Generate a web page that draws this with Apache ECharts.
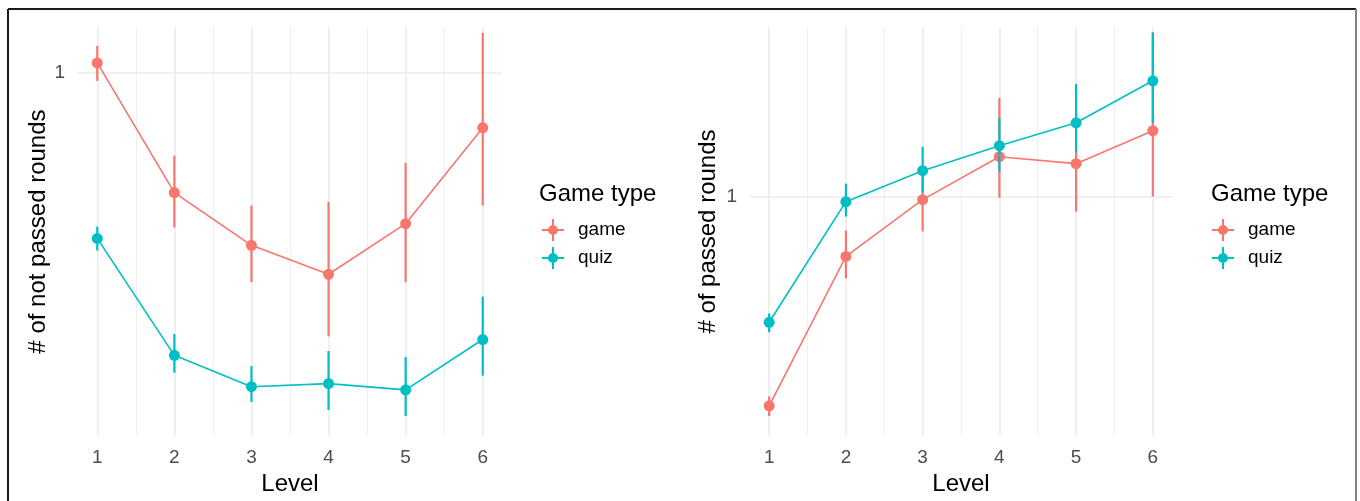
<!DOCTYPE html>
<html>
<head>
<meta charset="utf-8">
<title>Rounds by level and game type</title>
<script src="https://cdn.jsdelivr.net/npm/echarts@6/dist/echarts.min.js"></script>
<style>
  html, body { margin: 0; padding: 0; background: #ffffff; }
  #chart { width: 1360px; height: 501px; }
</style>
</head>
<body>
<div id="chart"></div>
<script>
// Levels on the x axis
const levels = [1, 2, 3, 4, 5, 6];
const groupNames = ['game', 'quiz'];
const xTicks = [1, 2, 3, 4, 5, 6];
const xMinorGrid = [1.5, 2.5, 3.5, 4.5, 5.5];
const yTickLabels = [1];

// Left panel: number of not passed rounds (mean with interval)
const notPassedGame     = [1.058, 0.510, 0.379, 0.322, 0.428, 0.734];
const notPassedGameLow  = [0.956, 0.419, 0.308, 0.227, 0.308, 0.474];
const notPassedGameHigh = [1.164, 0.628, 0.474, 0.484, 0.603, 1.252];
const notPassedQuiz     = [0.394, 0.204, 0.171, 0.174, 0.168, 0.223];
const notPassedQuizLow  = [0.368, 0.185, 0.157, 0.150, 0.145, 0.182];
const notPassedQuizHigh = [0.421, 0.230, 0.192, 0.209, 0.202, 0.284];

// Right panel: number of passed rounds (mean with interval)
const passedGame     = [0.308, 0.714, 0.983, 1.252, 1.204, 1.449];
const passedGameLow  = [0.291, 0.631, 0.822, 0.994, 0.919, 1.000];
const passedGameHigh = [0.325, 0.826, 1.125, 1.744, 1.339, 2.526];
const passedQuiz     = [0.493, 0.972, 1.157, 1.332, 1.515, 1.919];
const passedQuizLow  = [0.466, 0.894, 1.023, 1.151, 1.287, 1.515];
const passedQuizHigh = [0.518, 1.076, 1.324, 1.558, 1.886, 2.512];

const COLORS = { game: '#F8766D', quiz: '#00BFC4' };
const FONT = 'Liberation Sans, Arial, sans-serif';

const chart = echarts.init(document.getElementById('chart'), null, { renderer: 'canvas' });

const panels = [
  { left: 78,  width: 424, yMin: 0.1295, yMax: 1.295, title: '# of not passed rounds', nameGap: 28,
    game: [notPassedGame, notPassedGameLow, notPassedGameHigh],
    quiz: [notPassedQuiz, notPassedQuizLow, notPassedQuizHigh], legendLeft: 542, legendTitleLeft: 539 },
  { left: 750, width: 422, yMin: 0.2598, yMax: 2.598, title: '# of passed rounds', nameGap: 30,
    game: [passedGame, passedGameLow, passedGameHigh],
    quiz: [passedQuiz, passedQuizLow, passedQuizHigh], legendLeft: 1212, legendTitleLeft: 1211 }
];

const grids = [], xAxes = [], yAxes = [], series = [], legends = [], titles = [];

// pointrange legend glyph: horizontal and vertical strokes plus a dot
const pointRangeIcon = 'path://M0,10h22v2h-22z M10,0h2v22h-2z M6,11a5,5 0 1,1 10,0a5,5 0 1,1 -10,0z';

panels.forEach((p, i) => {
  grids.push({ left: p.left, top: 27, width: p.width, height: 410, containLabel: false });
  xAxes.push({
    type: 'value', gridIndex: i, min: 0.75, max: 6.25, interval: 0.25,
    name: 'Level', nameLocation: 'middle', nameGap: 35,
    nameTextStyle: { fontSize: 24, color: '#000', fontFamily: FONT },
    axisLine: { show: false }, axisTick: { show: false }, splitLine: { show: false },
    axisLabel: {
      margin: 12, fontSize: 19, color: '#4d4d4d', fontFamily: FONT,
      formatter: v => (xTicks.indexOf(Math.round(v * 100) / 100) >= 0 ? String(Math.round(v)) : '')
    }
  });
  yAxes.push({
    type: 'log', logBase: 10, gridIndex: i, min: p.yMin, max: p.yMax,
    name: p.title, nameLocation: 'middle', nameGap: p.nameGap, nameRotate: 90,
    nameTextStyle: { fontSize: 24, color: '#000', fontFamily: FONT },
    axisLine: { show: false }, axisTick: { show: false }, splitLine: { show: false },
    axisLabel: {
      margin: 13, fontSize: 19, color: '#4d4d4d', fontFamily: FONT,
      formatter: v => {
        const t = yTickLabels.find(t => Math.abs(v - t) < 1e-6);
        return t === undefined ? '' : String(t);
      }
    }
  });

  // panel grid lines, kept underneath the data
  const gridLines = [];
  xTicks.forEach(v => gridLines.push({ xAxis: v, lineStyle: { color: '#ebebeb', width: 1.6, type: 'solid' } }));
  xMinorGrid.forEach(v => gridLines.push({ xAxis: v, lineStyle: { color: '#f0f0f0', width: 1, type: 'solid' } }));
  yTickLabels.forEach(v => gridLines.push({ yAxis: v, lineStyle: { color: '#ebebeb', width: 1.6, type: 'solid' } }));
  series.push({
    type: 'line', name: 'panel-grid-' + i, xAxisIndex: i, yAxisIndex: i, data: [], z: 0,
    silent: true, animation: false,
    markLine: { z: 0, silent: true, symbol: 'none', label: { show: false }, animation: false, data: gridLines }
  });

  groupNames.forEach((g, gi) => {
    const [mean, low, high] = p[g];
    const color = COLORS[g];
    // interval bars
    series.push({
      type: 'custom', name: g, xAxisIndex: i, yAxisIndex: i, z: 10 + gi * 2,
      silent: true, animation: false, itemStyle: { color: color, opacity: 1 },
      encode: { x: 0, y: [1, 2] },
      data: levels.map((l, k) => [l, low[k], high[k]]),
      renderItem: (params, api) => {
        const a = api.coord([api.value(0), api.value(1)]);
        const b = api.coord([api.value(0), api.value(2)]);
        return { type: 'rect', shape: { x: a[0] - 1.1, y: b[1], width: 2.2, height: a[1] - b[1] },
                 style: { fill: color, opacity: 1 } };
      }
    });
    // means joined by a line
    series.push({
      type: 'line', name: g, xAxisIndex: i, yAxisIndex: i, z: 11 + gi * 2,
      data: levels.map((l, k) => [l, mean[k]]),
      symbol: 'circle', symbolSize: 11, showSymbol: true,
      lineStyle: { color: color, width: 1.6 },
      itemStyle: { color: color, borderWidth: 0, opacity: 1 },
      emphasis: { disabled: true }, animation: false
    });
  });

  titles.push({
    text: 'Game type', left: p.legendTitleLeft, top: 182, padding: 0,
    textStyle: { fontSize: 24, fontWeight: 'normal', color: '#000', fontFamily: FONT }
  });
  legends.push({
    data: groupNames, orient: 'vertical', left: p.legendLeft, top: 219, padding: 0,
    itemWidth: 22, itemHeight: 22, itemGap: 6, icon: pointRangeIcon, selectedMode: false,
    itemStyle: { borderWidth: 0 },
    textStyle: { fontSize: 19, color: '#000', fontFamily: FONT, padding: [0, 0, 0, 9] }
  });
});

chart.setOption({
  backgroundColor: '#ffffff',
  animation: false,
  color: [COLORS.game, COLORS.quiz],
  title: titles,
  legend: legends,
  grid: grids,
  xAxis: xAxes,
  yAxis: yAxes,
  series: series,
  graphic: [
    { type: 'line', shape: { x1: 8, y1: 9, x2: 1356, y2: 9 }, style: { stroke: '#1a1a1a', lineWidth: 2 }, silent: true },
    { type: 'line', shape: { x1: 8, y1: 9, x2: 8, y2: 501 }, style: { stroke: '#1a1a1a', lineWidth: 2 }, silent: true },
    { type: 'line', shape: { x1: 1356, y1: 9, x2: 1356, y2: 501 }, style: { stroke: '#808080', lineWidth: 2 }, silent: true }
  ]
});
</script>
</body>
</html>
